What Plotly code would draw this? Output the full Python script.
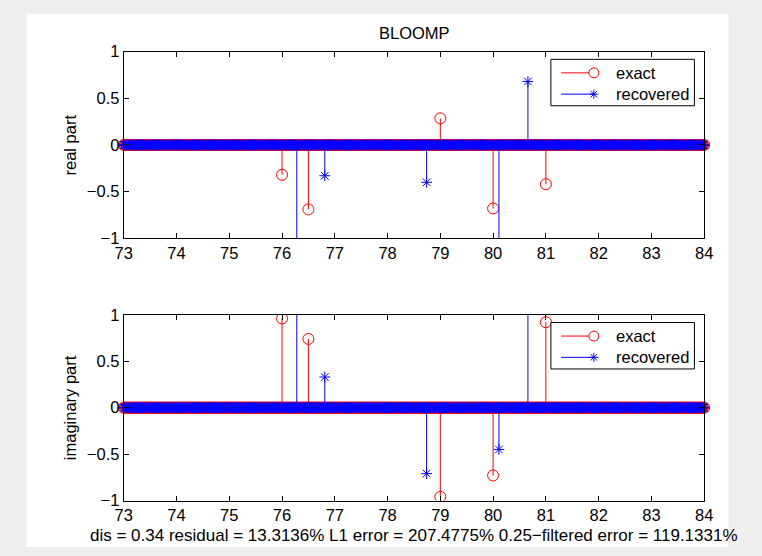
import numpy as np
import plotly.graph_objects as go

W, H = 762, 556

# sampled positions along the baseline
x_start, x_stop, x_step = 73.0, 84.0, 0.02

# exact support and coefficients
exact_pos = [76.0, 76.5, 79.0, 80.0, 81.0]
exact_real = [-0.32, -0.69, 0.285, -0.68, -0.42]
exact_imag = [0.96, 0.74, -0.96, -0.73, 0.92]

# recovered support and coefficients
recov_pos = [76.28, 76.81, 78.74, 80.11, 80.66]
recov_real = [-1.35, -0.33, -0.40, -1.20, 0.68]
recov_imag = [1.30, 0.33, -0.71, -0.45, 1.15]

x_ticks = list(range(73, 85))
y_ticks = [-1, -0.5, 0, 0.5, 1]

title_text = "BLOOMP"
ylabels = ["real part", "imaginary part"]
legend_names = ["exact", "recovered"]
footer = ("dis = 0.34 residual = 13.3136% L1 error = 207.4775% "
          "0.25\u2212filtered error = 119.1331%")

RED, BLUE = "#ff0000", "#0000ff"
BG = "#eeeeee"
FONT = "Liberation Sans, Arial, sans-serif"
FS = 16.5

grid = np.round(np.arange(x_start, x_stop + x_step / 2, x_step), 4)


def px(x):
    return x / W


def py(y):
    return 1 - y / H


def stem(pos, vals, color, symbol, size, xa, ya):
    sx, sy = [], []
    for p, v in zip(pos, vals):
        sx += [p, p, None]
        sy += [0, v, None]
    mk = dict(symbol=symbol, size=size, color=color,
              line=dict(color=color, width=1))
    lines = go.Scatter(x=sx, y=sy, mode="lines", xaxis=xa, yaxis=ya,
                       line=dict(color=color, width=1), hoverinfo="skip",
                       showlegend=False)
    # zero-valued samples: markers may overhang the axes box
    base = go.Scatter(x=grid, y=np.zeros(len(grid)), mode="markers",
                      xaxis=xa, yaxis=ya, marker=mk, cliponaxis=False,
                      showlegend=False)
    tips = go.Scatter(x=pos, y=vals, mode="markers", xaxis=xa, yaxis=ya,
                      marker=mk, showlegend=False)
    return [lines, base, tips]


fig = go.Figure()
panels = [("x", "y", exact_real, recov_real), ("x2", "y2", exact_imag, recov_imag)]
for xa, ya, ev, rv in panels:
    for t in stem(exact_pos, ev, RED, "circle-open", 11, xa, ya):
        fig.add_trace(t)
    for t in stem(recov_pos, rv, BLUE, "asterisk-open", 9, xa, ya):
        fig.add_trace(t)

# axes box geometry (pixels)
left, right = 117.5, 712
boxes = [(44, 237), (316, 508)]

axis_common = dict(showline=True, linecolor="black", linewidth=1, mirror="ticks",
                   ticks="inside", ticklen=5, tickcolor="black", tickwidth=1,
                   showgrid=False, zeroline=False,
                   tickfont=dict(family=FONT, size=FS, color="black"))

layout = dict(width=W, height=H, margin=dict(l=0, r=0, t=0, b=0),
              paper_bgcolor=BG, plot_bgcolor="white",
              showlegend=False, font=dict(family=FONT, size=FS, color="black"))
for i, (top, bot) in enumerate(boxes):
    sfx = "" if i == 0 else str(i + 1)
    layout["xaxis" + sfx] = dict(axis_common, domain=[px(left), px(right)],
                                 range=[x_start, x_stop], tickvals=x_ticks,
                                 anchor="y" + sfx)
    layout["yaxis" + sfx] = dict(axis_common, domain=[py(bot), py(top)],
                                 range=[-1, 1], tickvals=y_ticks,
                                 anchor="x" + sfx)
fig.update_layout(**layout)

shapes = [dict(type="rect", xref="paper", yref="paper", layer="below",
               x0=px(18), x1=px(737), y0=py(5), y1=0,
               fillcolor="white", line=dict(width=0))]
annotations = [
    dict(text=title_text, x=px(415), y=py(25), xref="paper", yref="paper",
         showarrow=False, xanchor="center", yanchor="middle", font=dict(size=FS)),
    dict(text=footer, x=px(415), y=py(544), xref="paper", yref="paper",
         showarrow=False, xanchor="center", yanchor="middle", font=dict(size=17)),
]
for i, (top, bot) in enumerate(boxes):
    annotations.append(dict(text=ylabels[i], x=px(62), y=py((top + bot) / 2),
                            xref="paper", yref="paper", showarrow=False,
                            textangle=-90, xanchor="center", yanchor="middle",
                            font=dict(size=FS)))

# legend boxes
leg_tops = [52, 324]
for lt in leg_tops:
    shapes.append(dict(type="rect", xref="paper", yref="paper", layer="above",
                       x0=px(555), x1=px(702), y0=py(lt + 48), y1=py(lt),
                       fillcolor="white", line=dict(color="black", width=1)))
    rows = [(lt + 14, RED, legend_names[0]), (lt + 36, BLUE, legend_names[1])]
    for k, (yy, col, name) in enumerate(rows):
        shapes.append(dict(type="line", xref="paper", yref="paper", layer="above",
                           x0=px(565.5), x1=px(599), y0=py(yy), y1=py(yy),
                           line=dict(color=col, width=1)))
        if k == 0:
            shapes.append(dict(type="circle", xref="paper", yref="paper",
                               xsizemode="pixel", ysizemode="pixel",
                               xanchor=px(599), yanchor=py(yy),
                               x0=-5, x1=5, y0=-5, y1=5, layer="above",
                               fillcolor="white", line=dict(color=col, width=1)))
        else:
            shapes.append(dict(type="path", xref="paper", yref="paper",
                               xsizemode="pixel", ysizemode="pixel",
                               xanchor=px(599), yanchor=py(yy), layer="above",
                               path="M-4.5,0 L4.5,0 M0,-4.5 L0,4.5 "
                                    "M-3.2,-3.2 L3.2,3.2 M-3.2,3.2 L3.2,-3.2",
                               line=dict(color=col, width=1)))
        annotations.append(dict(text=name, x=px(620), y=py(yy), xref="paper",
                                yref="paper", showarrow=False, xanchor="left",
                                yanchor="middle", font=dict(size=FS)))

fig.update_layout(shapes=shapes, annotations=annotations)
fig.write_html("out.html")
